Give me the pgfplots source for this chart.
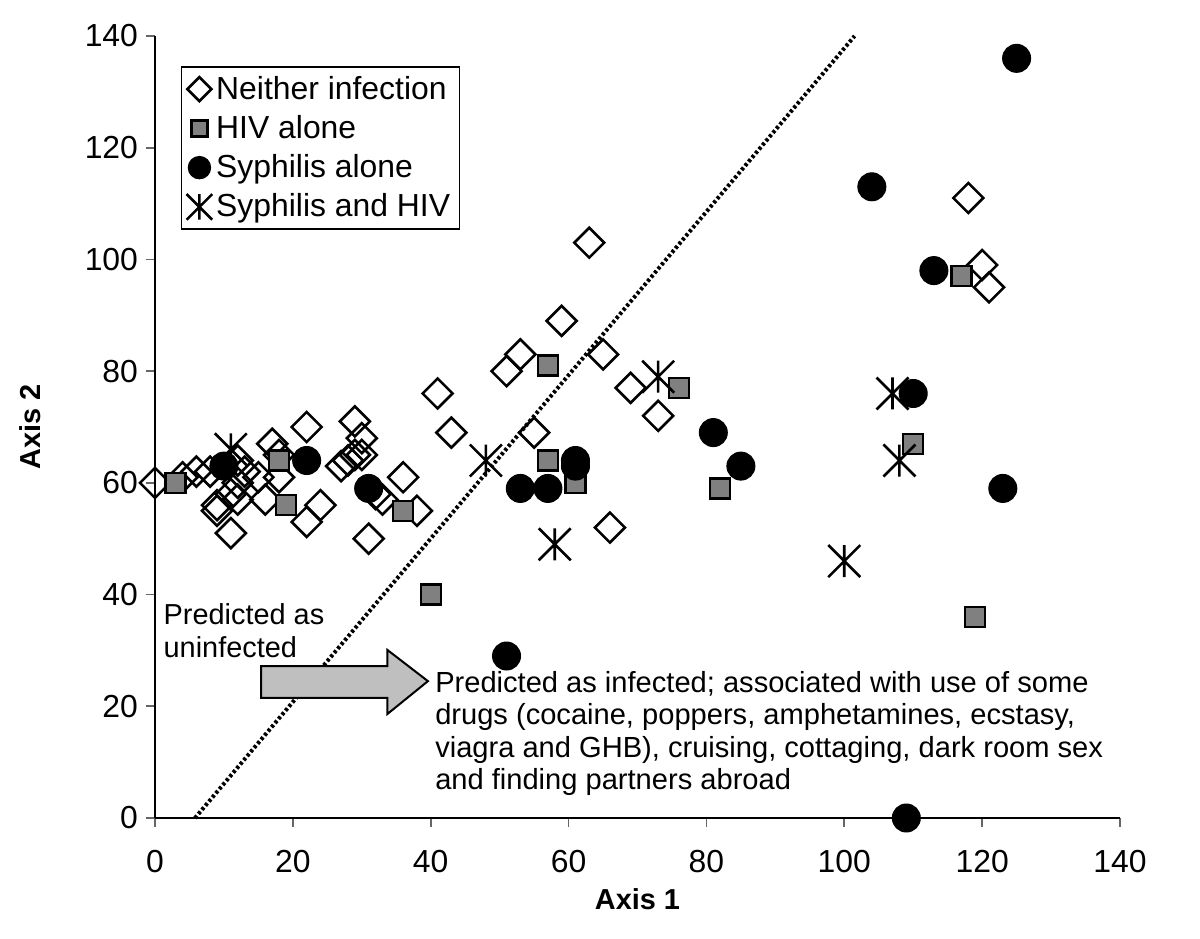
\documentclass[border=0pt]{standalone}
\usepackage{pgfplots}
\pgfplotsset{compat=1.18}
\usepackage{fontspec}
\setmainfont{Liberation Sans}
\pgfdeclareplotmark{xstar}{%
  \pgfpathmoveto{\pgfqpoint{-\pgfplotmarksize}{-\pgfplotmarksize}}%
  \pgfpathlineto{\pgfqpoint{\pgfplotmarksize}{\pgfplotmarksize}}%
  \pgfpathmoveto{\pgfqpoint{-\pgfplotmarksize}{\pgfplotmarksize}}%
  \pgfpathlineto{\pgfqpoint{\pgfplotmarksize}{-\pgfplotmarksize}}%
  \pgfpathmoveto{\pgfqpoint{0pt}{-\pgfplotmarksize}}%
  \pgfpathlineto{\pgfqpoint{0pt}{\pgfplotmarksize}}%
  \pgfusepathqstroke}
\begin{document}
\begin{tikzpicture}
\useasboundingbox (-77.5bp,-60.5bp) rectangle (522.5bp,409bp);
\begin{axis}[
  scale only axis, width=482.5bp, height=391bp,
  xmin=0, xmax=140, ymin=0, ymax=140,
  xtick={0,20,...,140}, ytick={0,20,...,140},
  axis lines*=left,
  axis line style={line width=1bp, black},
  tick align=outside, major tick length=4.5bp,
  tick style={line width=0.8bp, black!60},
  clip=false,
  /pgf/number format/assume math mode=true,
  ticklabel style={font=\fontsize{16}{18}\selectfont},
  xticklabel style={yshift=-8bp},
  yticklabel style={xshift=-0.5bp},
  xlabel={Axis 1}, ylabel={Axis 2},
  label style={font=\fontsize{14.5}{17}\selectfont\bfseries},
  xlabel style={anchor=center, at={(axis description cs:0.5,-0.1036)}},
  ylabel style={anchor=center, at={(axis description cs:-0.1295,0.5)}},
  legend style={at={(0.027,0.961)}, anchor=north west, draw=black, line width=0.6bp,
    font=\fontsize{16}{18}\selectfont, row sep=2.6bp, inner xsep=2.5bp, inner ysep=2.5bp,
    cells={anchor=west}},
  legend image code/.code={\draw[#1, every mark/.append style={scale=0.8}] plot coordinates {(0bp,0bp)};},
]
\addplot[only marks, mark=square, mark size=5.3bp,
  mark options={rotate=45, draw=black, fill=white, line width=1.3bp}]
  coordinates {
  (0,60) (4,61) (6,62) (8,62) (9,56) (9,55) (11,51) (11,58) (12,57) (12,60)
  (12,64) (13,62) (15,61) (16,57) (17,67) (18,65) (18,61) (22,70) (22,53) (24,56)
  (27,63) (28,64) (29,65) (30,65) (30,68) (29,71) (32,58) (33,57) (31,50) (36,61)
  (38,55) (41,76) (43,69) (51,80) (53,83) (55,69) (59,89) (63,103) (65,83) (66,52)
  (69,77) (73,72) (118,111) (120,99) (121,95)
  };
\addlegendentry{Neither infection}
\addplot[only marks, mark=square*, mark size=5bp,
  mark options={draw=black, fill=gray, line width=1.2bp}]
  coordinates {
  (3,60) (18,64) (19,56) (36,55) (40,40) (57,81) (57,64) (61,60) (76,77) (82,59)
  (110,67) (117,97) (119,36)
  };
\addlegendentry{HIV alone}
\addplot[only marks, mark=*, mark size=7bp,
  mark options={draw=black, fill=black, line width=0.5bp}]
  coordinates {
  (10,63) (22,64) (31,59) (51,29) (53,59) (57,59) (61,64) (61,63) (81,69) (85,63)
  (104,113) (109,0) (110,76) (113,98) (123,59) (125,136)
  };
\addlegendentry{Syphilis alone}
\addplot[only marks, mark=xstar, mark size=8bp,
  mark options={draw=black, line width=1.3bp}]
  coordinates {
  (11,66) (48,64) (58,49) (73,79) (100,46) (107,76) (108,64)
  };
\addlegendentry{Syphilis and HIV}
\addplot[black, line width=2bp, dash pattern=on 1.5bp off 1.2bp, forget plot]
  coordinates {(5.8,0) (101.5,140)};
\draw[fill=gray!50, line width=1bp]
  (axis cs:15.4,27.2) -- (axis cs:33.7,27.2) -- (axis cs:33.7,30.1) --
  (axis cs:39.6,24.5) -- (axis cs:33.7,18.6) -- (axis cs:33.7,21.5) --
  (axis cs:15.4,21.5) -- cycle;
\node[anchor=north west, inner sep=0pt, align=left,
  font=\fontsize{14.5}{16.5}\selectfont]
  at (axis cs:1.2,38.5) {Predicted as\\uninfected};
\node[anchor=north west, inner sep=0pt, align=left,
  font=\fontsize{14.6}{16.25}\selectfont]
  at (axis cs:40.6,26.3) {Predicted as infected; associated with use of some\\
  drugs (cocaine, poppers, amphetamines, ecstasy,\\
  viagra and GHB), cruising, cottaging, dark room sex\\
  and finding partners abroad};
\end{axis}
\end{tikzpicture}
\end{document}
